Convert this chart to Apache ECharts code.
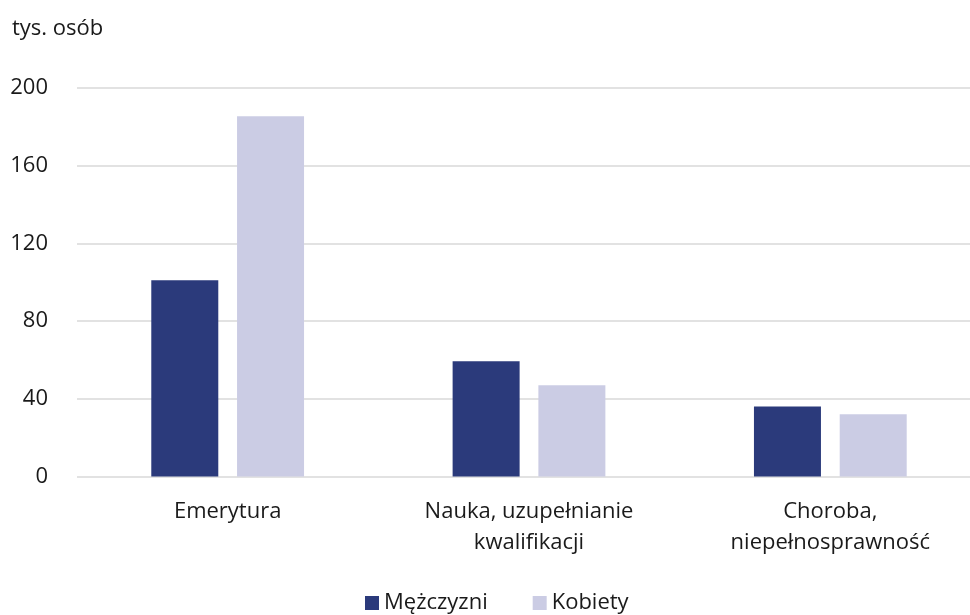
<!DOCTYPE html>
<html><head><meta charset="utf-8">
<script src="https://cdn.jsdelivr.net/npm/echarts@6/dist/echarts.min.js"></script>
<style>html,body{margin:0;padding:0;background:#fff;overflow:hidden}#c{width:981px;height:615px}</style>
</head><body><div id="c"></div>
<script>
const categories = ['Emerytura', 'Nauka, uzupełnianie\nkwalifikacji', 'Choroba,\nniepełnosprawność'];
const men = [101, 59.3, 36];
const women = [185.5, 47, 32];
const seriesNames = ['Mężczyzni', 'Kobiety'];
const yTicks = { min: 0, max: 200, interval: 40 };
const FONT = 'Open Sans';
const FS = 22;
const chart = echarts.init(document.getElementById('c'), null, { renderer: 'canvas' });
chart.setOption({
  animation: false,
  textStyle: { fontFamily: FONT },
  title: { text: 'tys. osób', left: 7, top: 13, textStyle: { fontFamily: FONT, fontSize: FS, fontWeight: 'normal', color: '#1a1a1a' } },
  legend: {
    bottom: -4, left: 360, itemWidth: 14, itemHeight: 14, itemGap: 45, icon: 'rect',
    textStyle: { fontFamily: FONT, fontSize: FS, color: '#1a1a1a' },
    data: seriesNames
  },
  grid: { left: 77, right: 0, top: 88, bottom: 138.5, containLabel: false },
  xAxis: {
    type: 'category', data: categories,
    axisLine: { show: false }, axisTick: { show: false },
    axisLabel: { fontFamily: FONT, fontSize: FS, color: '#1a1a1a', margin: 20, lineHeight: 31 }
  },
  yAxis: {
    type: 'value', min: yTicks.min, max: yTicks.max, interval: yTicks.interval,
    axisLine: { show: false }, axisTick: { show: false },
    axisLabel: { fontFamily: FONT, fontSize: FS, color: '#1a1a1a', margin: 29 },
    splitLine: { lineStyle: { color: '#d9d9d9', width: 1.5 } }
  },
  series: [
    { name: seriesNames[0], type: 'bar', data: men, barWidth: 67, barGap: '28%', itemStyle: { color: '#2b3a7b' } },
    { name: seriesNames[1], type: 'bar', data: women, barWidth: 67, itemStyle: { color: '#cbcce4' } }
  ]
});
</script></body></html>
